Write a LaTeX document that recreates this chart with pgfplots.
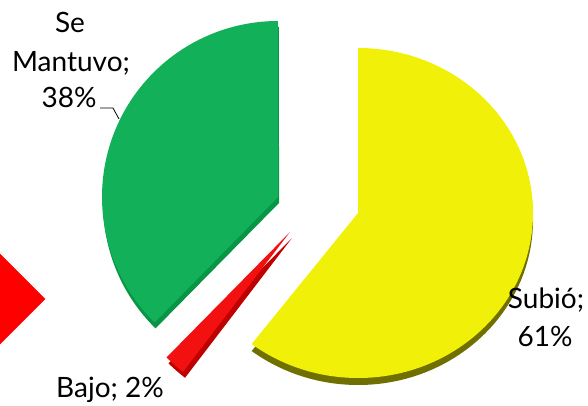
\documentclass[border=0pt]{standalone}
\usepackage{fontspec}
\setmainfont{Lato}
\usepackage{pgfplots}
\usepackage{pgfplotstable}
\pgfplotsset{compat=1.18}

\definecolor{cYel}{RGB}{240,240,8}
\definecolor{cYelD}{RGB}{112,112,0}
\definecolor{cGrn}{RGB}{18,176,88}
\definecolor{cGrnD}{RGB}{8,150,70}
\definecolor{cRed}{RGB}{242,16,16}
\definecolor{cRedD}{RGB}{190,0,0}

% label value
\pgfplotstableread{
label value
Subio 61
Bajo 2
Mantuvo 38
}\piedata

\begin{document}
\begin{tikzpicture}
\pgfplotstablegetelem{0}{value}\of\piedata \let\vSub\pgfplotsretval
\pgfplotstablegetelem{1}{value}\of\piedata \let\vBaj\pgfplotsretval
\pgfplotstablegetelem{2}{value}\of\piedata \let\vMan\pgfplotsretval
\pgfmathsetmacro\tot{\vSub+\vBaj+\vMan}
\pgfmathsetmacro\aA{90}
\pgfmathsetmacro\aB{90-\vSub/\tot*360}
\pgfmathsetmacro\aC{\aB-\vBaj/\tot*360}
\pgfmathsetmacro\aD{\aC-\vMan/\tot*360}
\begin{axis}[
  at={(0,0)}, anchor=south west,
  width=588pt, height=406pt, scale only axis,
  xmin=0, xmax=588, ymin=0, ymax=406,
  hide axis, clip=true, clip marker paths=true,
]
% Subio (yellow)
\fill[cYelD] (axis cs:358,186) -- ++(\aA:175pt and 165pt)
  arc[start angle=\aA, end angle=\aB, x radius=175pt, y radius=165pt] -- cycle;
\fill[cYel] (axis cs:358,193) -- ++(\aA:175pt and 165pt)
  arc[start angle=\aA, end angle=\aB, x radius=175pt, y radius=165pt] -- cycle;
% Bajo (red)
\fill[cRedD] (axis cs:292,168) -- ++(\aB:176pt)
  arc[start angle=\aB, end angle=\aC, radius=176pt] -- cycle;
\fill[cRed] (axis cs:290,174) -- ++(\aB:176pt)
  arc[start angle=\aB, end angle=\aC, radius=176pt] -- cycle;
% Se Mantuvo (green)
\fill[cGrnD] (axis cs:279,203) -- ++(\aC:176pt)
  arc[start angle=\aC, end angle=\aD, radius=176pt] -- cycle;
\fill[cGrn] (axis cs:278,209) -- ++(\aC:176pt)
  arc[start angle=\aC, end angle=\aD, radius=176pt] -- cycle;
% partial legend marker at left edge
\addplot[only marks, mark=square*, mark size=31.8pt, color=red,
  every mark/.append style={rotate=45}] coordinates {(0,107)};
% leader line
\addplot[black, line width=0.8pt, mark=none] coordinates {(100,298) (113,298) (119,287)};
% labels
\begin{scope}[every node/.style={font=\fontsize{28}{32}\selectfont, anchor=base, inner sep=0pt}]
\node at (axis cs:70,373) {Se};
\node at (axis cs:71,334) {Mantuvo;};
\node at (axis cs:69,298) {38\%};
\node at (axis cs:546,97) {Subió;};
\node at (axis cs:545,59) {61\%};
\node at (axis cs:110,8) {Bajo; 2\%};
\end{scope}
\end{axis}
\pgfresetboundingbox
\path[use as bounding box] (0,0) rectangle (588pt,406pt);
\end{tikzpicture}
\end{document}
